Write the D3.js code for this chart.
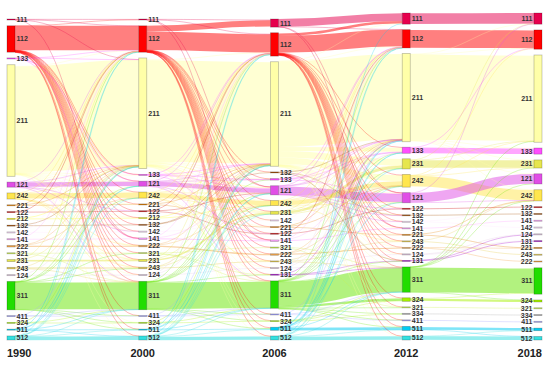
<!DOCTYPE html>
<html>
<head>
<meta charset="utf-8">
<script src="https://d3js.org/d3.v7.min.js"></script>
<style>
body { margin: 0; background-color: #fff; }
.node text { font: bold 7px "Liberation Sans", Arial, sans-serif; fill: #333; }
.year { font: bold 11px "Liberation Sans", Arial, sans-serif; fill: #222; }
</style>
</head>
<body>
<script>
// land cover classes per year (code, area units), top to bottom
var years = ["1990", "2000", "2006", "2012", "2018"];

var nodes1990 = [["111",1],["112",26],["133",1],["211",110],["121",5],["242",6],["221",1],["122",1],["212",1],["132",1],["142",1],["141",1],["222",1.5],["321",1],["231",2],["243",1.5],["124",1],["311",28],["411",1],["324",1],["511",1],["512",4]];
var nodes2000 = [["111",1],["112",26],["211",109],["133",1],["121",5],["242",6],["221",1],["122",1],["212",1],["132",1],["142",1],["141",1.5],["222",1.5],["321",1],["231",2],["243",1.5],["124",1],["311",28],["411",1],["324",1],["511",1],["512",4]];
var nodes2006 = [["111",8],["112",23],["211",103],["132",1],["133",1.5],["121",9],["242",5],["231",3],["142",1],["221",1],["122",1],["141",1.5],["321",1],["222",1.5],["243",1],["124",1],["131",1],["311",27],["411",1],["324",1],["511",3],["512",4]];
var nodes2012 = [["111",11],["112",18],["211",87],["133",6],["231",10],["242",12.5],["121",10],["122",1],["132",1],["142",1],["141",1],["221",1],["243",1],["222",1],["124",1],["131",1],["311",25],["324",3.5],["321",1],["334",1],["411",1],["511",4],["512",4]];
var nodes2018 = [["111",11],["112",19],["211",86],["133",6],["231",8],["121",10],["242",11],["122",1],["132",1],["141",1],["142",1],["124",1],["131",1],["221",1],["243",1],["222",1],["311",26],["324",2],["321",1],["334",1],["411",1],["511",2.5],["512",3.5]];

// flows between consecutive years: from, to, area
var flows1990_2000 = [
["111","111",0.7],["112","112",24],["133","133",0.5],["211","211",104],["121","121",4.4],["242","242",5.2],["221","221",0.6],["122","122",0.6],["212","212",0.6],["132","132",0.5],["142","142",0.6],["141","141",0.7],["222","222",1.1],["321","321",0.6],["231","231",1.5],["243","243",1],["124","124",0.7],["311","311",26.5],["411","411",0.7],["324","324",0.5],["511","511",0.6],["512","512",3.6],
["111","112",0.1],["111","211",0.1],["111","141",0.1],
["112","111",0.2],["112","133",0.1],["112","121",0.15],["112","242",0.15],["112","221",0.1],["112","122",0.15],["112","212",0.1],["112","132",0.1],["112","142",0.15],["112","141",0.15],["112","222",0.1],["112","321",0.1],["112","231",0.1],["112","243",0.1],["112","124",0.1],["112","311",0.2],["112","411",0.1],["112","511",0.1],["112","512",0.1],
["133","112",0.15],["133","211",0.1],["133","121",0.1],["133","141",0.1],
["211","112",0.6],["211","133",0.3],["211","121",0.3],["211","242",0.3],["211","221",0.1],["211","212",0.15],["211","142",0.1],["211","222",0.15],["211","231",0.2],["211","243",0.15],["211","124",0.1],["211","311",0.4],["211","324",0.1],["211","512",0.15],
["121","112",0.15],["121","211",0.15],["121","122",0.1],["121","142",0.1],["121","311",0.1],
["242","112",0.15],["242","211",0.2],["242","231",0.1],["242","243",0.1],["242","222",0.1],["242","311",0.1],
["221","211",0.1],["221","112",0.1],["122","112",0.1],["212","211",0.1],["132","211",0.1],["142","112",0.1],["141","112",0.1],["222","211",0.1],["222","242",0.1],["321","311",0.1],["231","211",0.1],["231","112",0.1],["243","211",0.1],["243","311",0.1],["124","211",0.1],
["311","112",0.2],["311","211",0.3],["311","121",0.1],["311","242",0.1],["311","243",0.1],["311","321",0.1],["311","411",0.1],["311","324",0.2],["311","511",0.1],
["411","211",0.1],["411","311",0.1],["324","311",0.1],["324","211",0.1],
["511","112",0.1],["511","211",0.1],["511","121",0.1],["511","311",0.1],["511","512",0.1],
["512","112",0.15],["512","211",0.15],["512","121",0.1],["512","242",0.1],["512","311",0.15],["512","511",0.1]
];
var flows2000_2006 = [
["111","111",0.7],["112","111",6],["112","112",18],["211","211",100],["211","112",0.8],["211","121",1.2],["211","231",1],["211","133",0.4],["211","511",0.6],["133","133",0.4],["133","121",0.3],["121","121",4.4],["242","242",4.3],["221","221",0.6],["122","122",0.6],["212","211",0.4],["212","242",0.15],["132","132",0.5],["142","142",0.6],["141","141",1],["222","222",1.1],["321","321",0.6],["231","231",1.5],["243","243",0.9],["124","124",0.7],["311","311",26],["411","411",0.7],["324","324",0.6],["511","511",0.6],["512","512",3.2],["512","511",0.4],
["111","112",0.1],["111","121",0.1],["111","141",0.1],
["112","132",0.1],["112","133",0.15],["112","121",0.2],["112","242",0.1],["112","231",0.1],["112","142",0.15],["112","221",0.1],["112","122",0.15],["112","141",0.15],["112","321",0.1],["112","222",0.1],["112","243",0.1],["112","124",0.1],["112","131",0.1],["112","311",0.2],["112","411",0.1],["112","324",0.1],["112","511",0.1],["112","512",0.1],
["211","132",0.2],["211","242",0.3],["211","142",0.15],["211","221",0.1],["211","122",0.15],["211","141",0.1],["211","222",0.15],["211","243",0.1],["211","124",0.1],["211","131",0.2],["211","311",0.3],["211","324",0.1],["211","512",0.15],
["133","112",0.1],["133","211",0.1],["133","141",0.1],
["121","112",0.15],["121","211",0.1],["121","122",0.1],["121","133",0.1],["121","311",0.1],
["242","112",0.1],["242","211",0.2],["242","121",0.1],["242","231",0.15],["242","243",0.1],["242","311",0.1],
["221","112",0.1],["221","211",0.1],["122","112",0.1],["122","121",0.1],["132","211",0.1],["142","112",0.1],["141","112",0.1],["141","121",0.1],["222","211",0.1],["222","242",0.1],["321","311",0.1],["321","131",0.1],["231","211",0.1],["231","112",0.1],["243","211",0.1],["243","242",0.1],["124","211",0.1],["124","112",0.1],
["311","112",0.2],["311","211",0.3],["311","121",0.2],["311","133",0.1],["311","242",0.1],["311","231",0.1],["311","131",0.2],["311","411",0.1],["311","324",0.2],["311","511",0.3],
["411","311",0.1],["411","211",0.1],["324","311",0.1],["324","211",0.1],
["511","112",0.1],["511","211",0.1],["511","121",0.1],["511","311",0.1],
["512","112",0.15],["512","211",0.15],["512","121",0.1],["512","242",0.1],["512","231",0.1],["512","311",0.1]
];
var flows2006_2012 = [
["111","111",7.5],["112","111",2.5],["112","112",16.5],["211","211",84],["211","112",0.5],["211","111",0.3],["211","133",4],["211","231",6.5],["211","242",6],["211","121",0.8],["211","324",0.3],["211","511",0.4],["133","133",0.5],["132","132",0.5],["121","121",8],["121","133",0.3],["242","242",4.3],["231","231",2.5],["142","142",0.6],["221","221",0.6],["122","122",0.6],["141","141",1],["321","321",0.6],["222","222",1],["243","243",0.6],["124","124",0.7],["131","131",0.6],["311","311",23.5],["311","324",2.3],["311","334",0.6],["411","411",0.7],["324","324",0.5],["511","511",2.6],["512","512",3.4],["512","511",0.3],
["111","112",0.2],["111","121",0.1],["111","141",0.1],
["112","133",0.3],["112","121",0.2],["112","242",0.1],["112","122",0.15],["112","132",0.1],["112","142",0.15],["112","141",0.15],["112","221",0.1],["112","243",0.1],["112","222",0.1],["112","124",0.1],["112","131",0.1],["112","311",0.2],["112","324",0.1],["112","321",0.1],["112","411",0.1],["112","511",0.15],["112","512",0.1],
["211","122",0.2],["211","132",0.15],["211","142",0.2],["211","141",0.1],["211","221",0.15],["211","243",0.15],["211","222",0.1],["211","124",0.1],["211","131",0.2],["211","311",0.3],["211","321",0.1],["211","512",0.15],
["132","211",0.1],["132","131",0.1],["133","112",0.1],["133","121",0.1],["133","211",0.1],
["121","112",0.15],["121","211",0.1],["121","122",0.1],["121","132",0.1],["121","142",0.1],
["242","211",0.2],["242","231",0.2],["242","112",0.1],["242","121",0.1],["242","243",0.1],
["231","211",0.1],["231","242",0.15],["231","112",0.1],
["142","112",0.1],["221","211",0.1],["221","242",0.1],["122","112",0.1],["141","112",0.1],["141","133",0.1],["321","311",0.1],["222","242",0.1],["222","211",0.1],["243","242",0.1],["243","311",0.1],["124","112",0.1],["124","211",0.1],["131","211",0.1],["131","311",0.1],
["311","112",0.2],["311","211",0.4],["311","133",0.3],["311","231",0.2],["311","242",0.3],["311","121",0.2],["311","131",0.1],["311","321",0.1],["311","411",0.1],["311","511",0.2],
["411","311",0.1],["411","211",0.1],["324","311",0.1],["324","334",0.2],
["511","111",0.1],["511","112",0.15],["511","211",0.15],["511","133",0.1],["511","231",0.1],["511","121",0.1],["511","311",0.1],
["512","112",0.15],["512","211",0.15],["512","133",0.1],["512","242",0.1],["512","311",0.1]
];
var flows2012_2018 = [
["111","111",10.5],["112","112",17.5],["211","211",84],["133","133",5.5],["231","231",7.5],["242","242",10.3],["121","121",9.5],["122","122",0.8],["132","132",0.8],["142","142",0.8],["141","141",0.8],["221","221",0.8],["243","243",0.8],["222","222",0.8],["124","124",0.8],["131","131",0.8],["311","311",24.3],["324","324",2],["321","321",0.8],["334","334",0.8],["411","411",0.8],["511","511",2.5],["512","512",3.5],
["211","111",0.2],["211","112",0.3],["211","133",0.3],["211","231",0.3],["211","242",0.4],["211","121",0.15],["133","112",0.15],["231","111",0.1],["231","211",0.2],["242","112",0.15],["242","211",0.3],["242","231",0.1],["121","111",0.1],["121","242",0.1],["221","242",0.15],["243","242",0.15],["222","221",0.1],["131","124",0.1],["124","131",0.1],["142","122",0.1],["311","211",0.2],["311","121",0.15],["311","242",0.2],["311","231",0.1],["311","324",0.2],["324","311",0.2],["511","512",0.1],["512","511",0.1]
];

var colors = {"111":"#e6004d","112":"#ff0000","121":"#e04ee6","122":"#cc0000","124":"#e6cce6","131":"#a600cc","132":"#a64d00","133":"#ff4dff","141":"#ffa6ff","142":"#ffe6ff","211":"#ffffa8","212":"#ffff00","221":"#e68000","222":"#f2a64d","231":"#e6e64d","242":"#ffe64d","243":"#e6cc4d","311":"#22dd00","321":"#ccf24d","324":"#a6f200","334":"#aaaaaa","411":"#a6a6ff","511":"#00ccf2","512":"#33e0e0"};
var linkColors = {"311":"#66e600"};

var columns = [nodes1990, nodes2000, nodes2006, nodes2012, nodes2018];
var flows = [flows1990_2000, flows2000_2006, flows2006_2012, flows2012_2018];

var width = 550, height = 367;
var nodeWidth = 8, minGap = 5.5;
var colTop = [19, 19, 19, 13, 13], colBottom = 340;

var svg = d3.select("body").append("svg")
    .attr("width", width)
    .attr("height", height);

var x = d3.scalePoint().domain(years).range([7, 534]);

// one value scale for all columns, sized by the tightest column
var k = d3.min(columns, function(col, i) {
  return (colBottom - colTop[i] - (col.length - 1) * minGap) / d3.sum(col, function(d) { return d[1]; });
});
var h = d3.scaleLinear().domain([0, 1]).range([0, k]);

var nodes = [], byCol = [];
columns.forEach(function(col, ci) {
  var total = d3.sum(col, function(d) { return h(d[1]); });
  var gap = (colBottom - colTop[ci] - total) / (col.length - 1);
  var y = colTop[ci], m = {};
  col.forEach(function(d) {
    var n = {code: d[0], value: d[1], col: ci, x0: x(years[ci]), y0: y, y1: y + h(d[1]), out: [], inn: []};
    n.x1 = n.x0 + nodeWidth;
    y = n.y1 + gap;
    m[d[0]] = n;
    nodes.push(n);
  });
  byCol.push(m);
});

var links = [];
flows.forEach(function(list, p) {
  list.forEach(function(f) {
    var s = byCol[p][f[0]], t = byCol[p + 1][f[1]];
    if (!s || !t) return;
    var l = {source: s, target: t, value: f[2], width: h(f[2])};
    s.out.push(l); t.inn.push(l); links.push(l);
  });
});

// stack link ends inside nodes, ordered by the other end
nodes.forEach(function(n) {
  n.out.sort(function(a, b) { return a.target.y0 - b.target.y0; });
  n.inn.sort(function(a, b) { return a.source.y0 - b.source.y0; });
  var sw = d3.sum(n.out, function(l) { return l.width; });
  var y = (n.y0 + n.y1 - sw) / 2;
  n.out.forEach(function(l) { l.ys = y + l.width / 2; y += l.width; });
  sw = d3.sum(n.inn, function(l) { return l.width; });
  y = (n.y0 + n.y1 - sw) / 2;
  n.inn.forEach(function(l) { l.yt = y + l.width / 2; y += l.width; });
});

var linkPath = d3.linkHorizontal()
    .source(function(l) { return [l.source.x1, l.ys]; })
    .target(function(l) { return [l.target.x0, l.yt]; });

links.sort(function(a, b) { return b.width - a.width; });

svg.append("g")
    .attr("fill", "none")
  .selectAll("path")
  .data(links)
  .enter().append("path")
    .attr("d", linkPath)
    .attr("stroke", function(l) { return linkColors[l.source.code] || colors[l.source.code]; })
    .attr("stroke-opacity", function(l) { return l.width < 1 ? 0.4 : 0.5; })
    .attr("stroke-width", function(l) { return Math.max(0.7, l.width); });

var node = svg.append("g")
  .selectAll(".node")
  .data(nodes)
  .enter().append("g")
    .attr("class", "node");

node.append("rect")
    .attr("x", function(d) { return d.x0; })
    .attr("y", function(d) { return d.y0; })
    .attr("width", nodeWidth)
    .attr("height", function(d) { return Math.max(0.5, d.y1 - d.y0); })
    .attr("fill", function(d) { return colors[d.code]; })
    .attr("stroke", "#000")
    .attr("stroke-opacity", 0.25)
    .attr("stroke-width", 0.8);

node.append("text")
    .attr("x", function(d) { return d.col < 4 ? d.x1 + 1.5 : d.x0 - 1.5; })
    .attr("y", function(d) { return (d.y0 + d.y1) / 2; })
    .attr("dy", "0.35em")
    .attr("text-anchor", function(d) { return d.col < 4 ? "start" : "end"; })
    .text(function(d) { return d.code; });

svg.append("g")
  .selectAll("text")
  .data(years)
  .enter().append("text")
    .attr("class", "year")
    .attr("x", function(d, i) {
      if (i === 0) return x(d);
      if (i === years.length - 1) return x(d) + nodeWidth;
      return x(d) + nodeWidth / 2;
    })
    .attr("y", 357)
    .attr("text-anchor", function(d, i) { return i === 0 ? "start" : (i === years.length - 1 ? "end" : "middle"); })
    .text(function(d) { return d; });
</script>
</body>
</html>
